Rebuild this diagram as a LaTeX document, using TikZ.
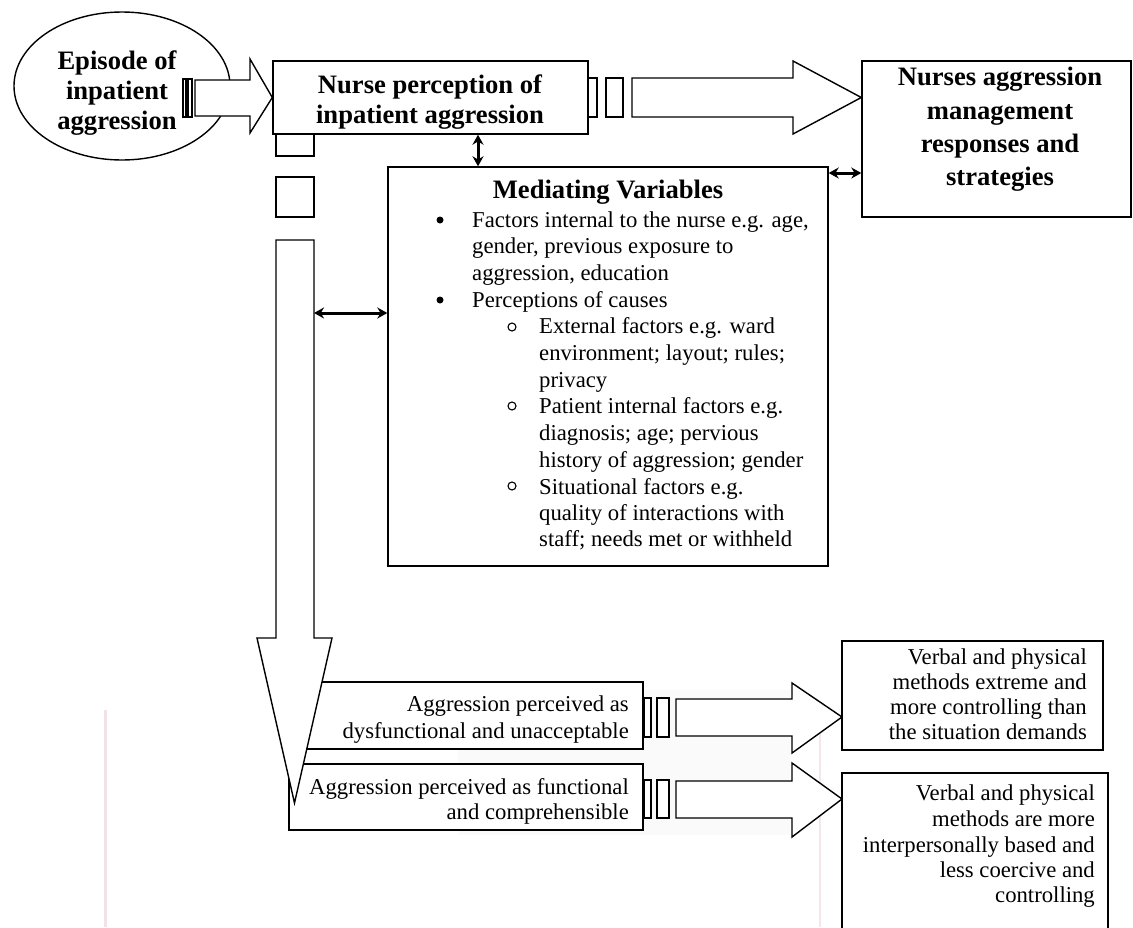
\documentclass[tikz,border=0pt]{standalone}
\usepackage{fontspec}
\setmainfont{Liberation Serif}
\usetikzlibrary{arrows.meta,shapes.geometric,calc}
\definecolor{artA}{RGB}{240,226,230}
\definecolor{artB}{RGB}{242,232,235}
\newcommand\mkbox[5]{\node[box, minimum width={#4-#2}, minimum height={#5-#3}] (#1) at ({(#2+#4)/2},{(#3+#5)/2}) {};}
\begin{document}
\begin{tikzpicture}[x=1pt,y=-1pt,
  box/.style={draw, line width=1.4pt, fill=white, inner sep=0pt},
  blk/.style={draw, line width=1.4pt, fill=white, line join=miter},
  bt/.style={font=\fontsize{26.6}{30}\selectfont\bfseries, inner sep=0pt, anchor=base},
  tx/.style={font=\fontsize{22.7}{26.7}\selectfont, inner sep=0pt, anchor=base west},
  txr/.style={font=\fontsize{22.7}{26.7}\selectfont, inner sep=0pt, anchor=base east},
  dbl/.style={{Stealth[length=10pt,width=11pt]}-{Stealth[length=10pt,width=11pt]}, line width=3pt},
  fbul/.style={circle, fill, inner sep=0pt, minimum size=7pt},
  obul/.style={circle, draw, line width=1.1pt, inner sep=0pt, minimum size=8pt},
]
\useasboundingbox (0,0) rectangle (1133,927);
\clip (0,0) rectangle (1133,927);
% faint scan artefacts
\fill[black!2] (458,690) rectangle (790,835);
\draw[line width=3pt, artA] (105,710) -- (105,927);
\draw[line width=2pt, artB] (820,717) -- (820,927);

% episode ellipse
\node[draw, ellipse, line width=1.4pt, minimum width=216pt, minimum height=148pt, inner sep=0pt] (ep) at (122,86) {};
\node[bt] (ep1) at (117,69) {Episode of};
\node[bt] (ep2) at (117,99) {inpatient};
\node[bt] (ep3) at (117,129) {aggression};

% nurse perception box
\mkbox{nurse}{273}{61}{588}{134}
\node[bt] (n1) at (430,93) {Nurse perception of};
\node[bt] (n2) at (430,123) {inpatient aggression};

% striped arrow ellipse -> nurse
\draw[blk] (183,79) rectangle (186,117);
\draw[blk] (188,79) rectangle (192,117);
\draw[blk] (195,80) -- (250,80) -- (250,59) -- (nurse.west) -- (250,133) -- (250,116) -- (195,116) -- cycle;

% responses box
\mkbox{resp}{862}{61}{1131}{217}
\node[bt] (r1) at (1000,85) {Nurses aggression};
\node[bt] (r2) at (1000,119) {management};
\node[bt] (r3) at (1000,152) {responses and};
\node[bt] (r4) at (1000,185) {strategies};

% striped arrow nurse -> responses
\draw[blk] (588,78) rectangle (597,117);
\draw[blk] (606,78) rectangle (623,117);
\draw[blk] (632,78) -- (793,78) -- (793,61) -- (nurse.east -| resp.west) -- (793,134) -- (793,117) -- (632,117) -- cycle;

% mediating variables
\mkbox{med}{388}{167}{828}{566}
\node[bt] (mt) at (608,198) {Mediating Variables};
\node[fbul] (b1) at (440,220) {};
\node[tx] (m1) at (472,227) {Factors internal to the nurse e.g. age,};
\node[tx] (m2) at (472,253.7) {gender, previous exposure to};
\node[tx] (m3) at (472,280.4) {aggression, education};
\node[fbul] (b2) at (440,300) {};
\node[tx] (m4) at (472,307.1) {Perceptions of causes};
\node[obul] (o1) at (512,327) {};
\node[tx] (m5) at (539,333.8) {External factors e.g. ward};
\node[tx] (m6) at (539,360.5) {environment; layout; rules;};
\node[tx] (m7) at (539,387.2) {privacy};
\node[obul] (o2) at (512,406) {};
\node[tx] (m8) at (539,413.9) {Patient internal factors e.g.};
\node[tx] (m9) at (539,440.6) {diagnosis; age; pervious};
\node[tx] (m10) at (539,467.3) {history of aggression; gender};
\node[obul] (o3) at (512,486) {};
\node[tx] (m11) at (539,494) {Situational factors e.g.};
\node[tx] (m12) at (539,520.7) {quality of interactions with};
\node[tx] (m13) at (539,546.4) {staff; needs met or withheld};

% thin double arrows
\coordinate (v1) at (478,0);
\coordinate (h1) at (0,173);
\coordinate (dbody) at (314,313);
\draw[dbl] (nurse.south -| v1) -- (med.north -| v1);
\draw[dbl] (med.east |- h1) -- (resp.west |- h1);
\draw[dbl] (dbody) -- (med.west |- dbody);

% bottom perception boxes
\mkbox{dysf}{289}{682}{643}{749}
\node[txr] (d1) at (629,711) {Aggression perceived as};
\node[txr] (d2) at (629,738) {dysfunctional and unacceptable};
\mkbox{func}{289}{764}{643}{830}
\node[txr] (f1) at (629,794) {Aggression perceived as functional};
\node[txr] (f2) at (629,819) {and comprehensible};

% striped down arrow
\draw[blk] (276,134) rectangle (314,156);
\draw[blk] (276,177) rectangle (314,217);
\draw[blk] (276,240) -- (276,638) -- (257,638) -- (294.5,803) -- (332,638) -- (314,638) -- (314,240) -- cycle;

% outcome boxes
\mkbox{ctrl}{842}{641}{1103}{750}
\node[txr] (c1) at (1087,664) {Verbal and physical};
\node[txr] (c2) at (1087,689) {methods extreme and};
\node[txr] (c3) at (1087,714) {more controlling than};
\node[txr] (c4) at (1087,739) {the situation demands};
\mkbox{inter}{842}{773}{1108}{945}
\node[txr] (i1) at (1095,800) {Verbal and physical};
\node[txr] (i2) at (1095,826) {methods are more};
\node[txr] (i3) at (1095,852) {interpersonally based and};
\node[txr] (i4) at (1095,877) {less coercive and};
\node[txr] (i5) at (1095,902) {controlling};

% striped arrows to outcomes
\coordinate (t1) at (842,717);
\coordinate (t2) at (842,799);
\draw[blk] (644,698) rectangle (651,737);
\draw[blk] (657,698) rectangle (669,737);
\draw[blk] (676,699) -- (792,699) -- (792,683) -- (t1) -- (792,753) -- (792,736) -- (676,736) -- cycle;
\draw[blk] (644,780) rectangle (651,818);
\draw[blk] (657,780) rectangle (669,818);
\draw[blk] (676,781) -- (792,781) -- (792,763) -- (t2) -- (792,837) -- (792,818) -- (676,818) -- cycle;
\end{tikzpicture}
\end{document}
